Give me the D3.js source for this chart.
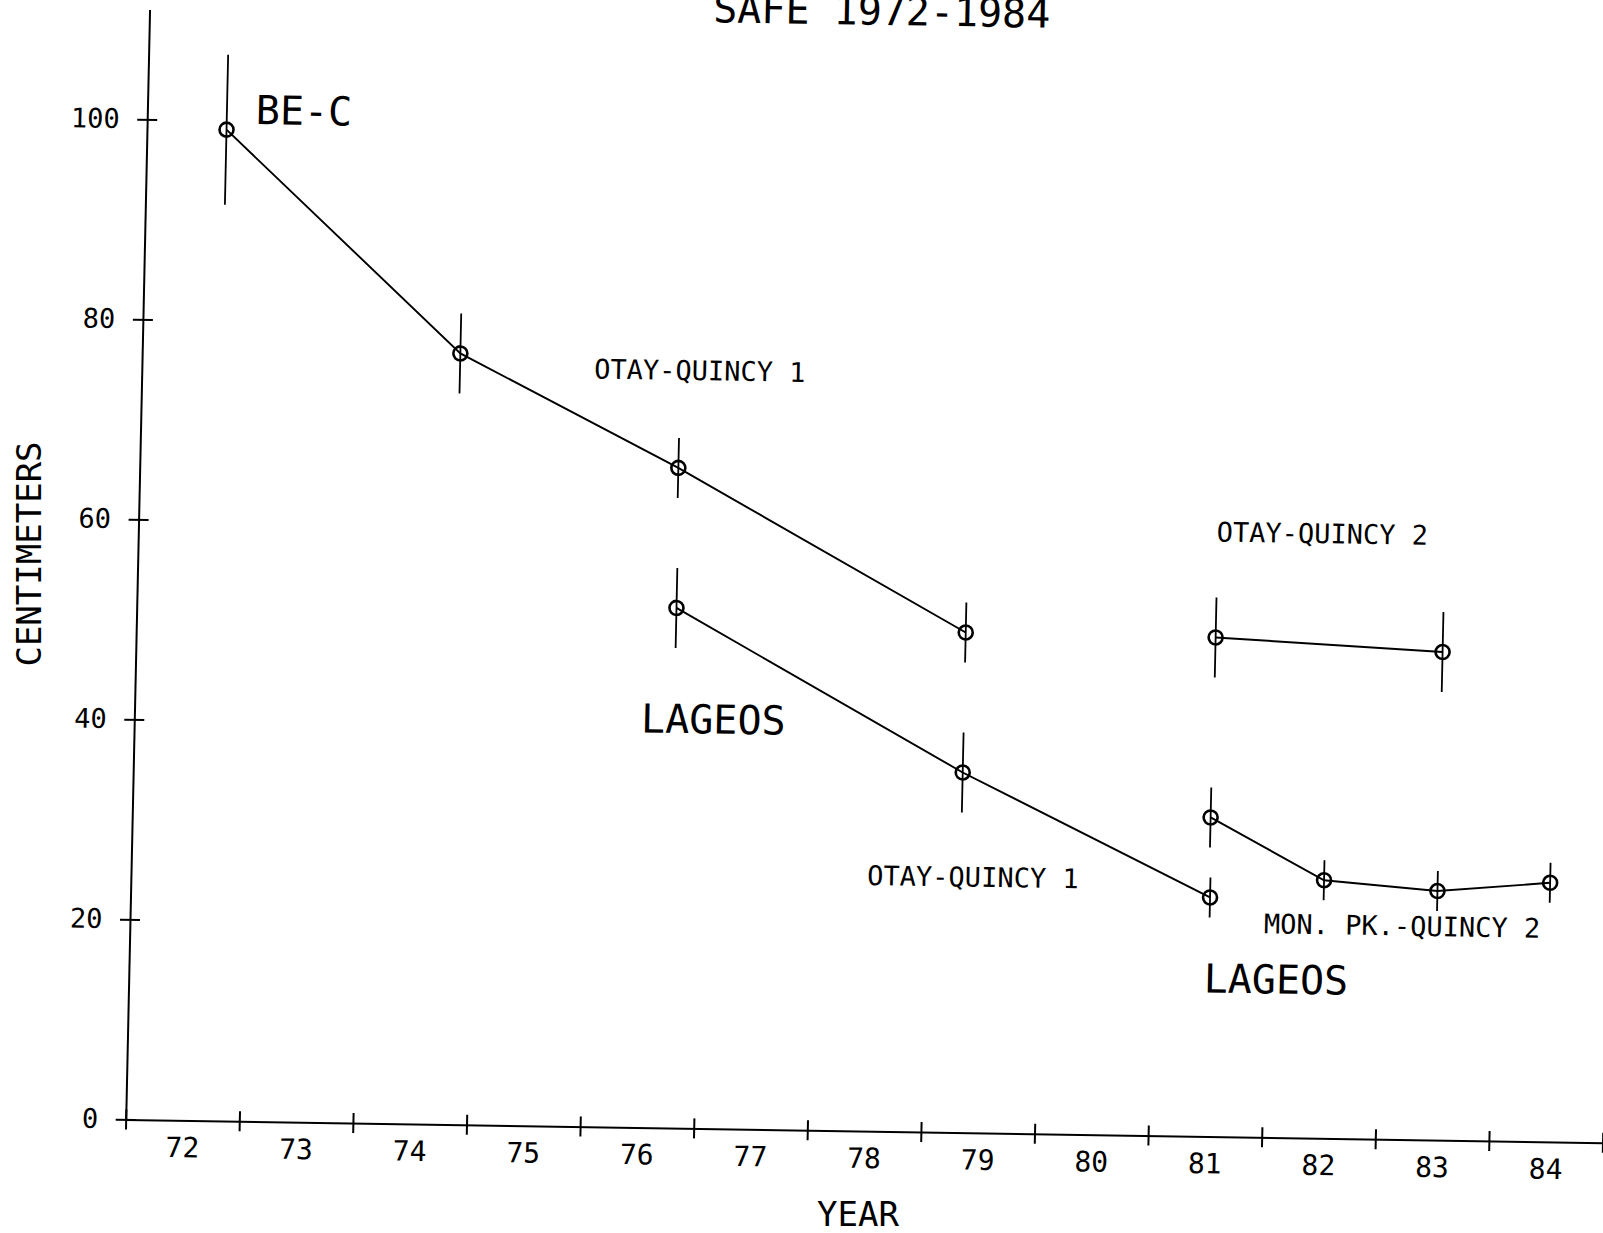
<!DOCTYPE html>
<html>
<head>
<meta charset="utf-8">
<script src="https://cdn.jsdelivr.net/npm/d3@7"></script>
<style>
  body { margin: 0; background: #fff; }
  svg { display: block; }
  text { font-family: "DejaVu Sans Mono", monospace; fill: #000; }
</style>
</head>
<body>
<div id="chart"></div>
<script>
// Upper curve: BE-C then OTAY-QUINCY 1
const beYears = [1972.70, 1974.80, 1976.74, 1979.30];
const beCm = [99.1, 77.1, 66.0, 50.0];
const beErr = [7.5, 4.0, 3.0, 3.0];

// LAGEOS / OTAY-QUINCY 1
const lagYears = [1976.75, 1979.30, 1981.50];
const lagCm = [52.0, 36.0, 23.9];
const lagErr = [4.0, 4.0, 2.0];

// OTAY-QUINCY 2
const oq2Years = [1981.50, 1983.50];
const oq2Cm = [49.9, 48.8];
const oq2Err = [4.0, 4.0];

// LAGEOS / MON. PK.-QUINCY 2
const monYears = [1981.49, 1982.50, 1983.50, 1984.49];
const monCm = [31.9, 25.8, 24.9, 25.9];
const monErr = [3.0, 2.0, 2.0, 2.0];

const yTicks = [0, 20, 40, 60, 80, 100];
const yearTicks = d3.range(1972, 1986);
const yearLabels = ["72", "73", "74", "75", "76", "77", "78", "79", "80", "81", "82", "83", "84"];

// text labels placed in data space
const labelText = ["SAFE 1972-1984", "BE-C", "OTAY-QUINCY 1", "LAGEOS", "OTAY-QUINCY 1",
                   "OTAY-QUINCY 2", "MON. PK.-QUINCY 2", "LAGEOS"];
const labelYear = [1976.96, 1972.955, 1975.98, 1976.46, 1978.48, 1981.49, 1981.98, 1981.46];
const labelCm = [110.6, 99.7, 74.8, 39.5, 24.6, 59.5, 20.4, 14.4];
const labelBig = [true, true, false, true, false, false, false, true];

const width = 1603, height = 1233;

const svg = d3.select("#chart").append("svg")
  .attr("width", width)
  .attr("height", height);

// the scanned plot is slightly skewed; keep that with one affine transform
const g = svg.append("g")
  .attr("transform", "matrix(1, 0.0158, -0.0215, 1, 125.7, 1119.4)");

const x = d3.scaleLinear().domain([1972, 1985]).range([0, 1476.8]);
const y = d3.scaleLinear().domain([0, 111]).range([0, -1110]);

// x axis with cross ticks
g.append("g")
  .call(d3.axisBottom(x).tickValues(yearTicks).tickFormat("").tickSizeInner(10).tickSizeOuter(0))
  .call(a => a.selectAll(".tick line").attr("y1", -10).attr("stroke-width", 2))
  .call(a => a.select(".domain").attr("stroke-width", 2));

// year labels sit in the middle of each year
g.append("g")
  .call(d3.axisBottom(x).tickValues(yearLabels.map((d, i) => 1972.5 + i))
    .tickFormat((d, i) => yearLabels[i]).tickSize(0).tickPadding(17))
  .call(a => a.select(".domain").remove())
  .call(a => a.selectAll("text").attr("font-size", 28))
  .attr("font-family", null).attr("font-size", null);

// y axis
g.append("g")
  .call(d3.axisLeft(y).tickValues(yTicks).tickSizeInner(10).tickSizeOuter(0).tickPadding(17.6))
  .call(a => a.selectAll(".tick line").attr("x1", 10).attr("stroke-width", 2))
  .call(a => a.select(".domain").attr("stroke-width", 2))
  .call(a => a.selectAll("text").attr("font-size", 27))
  .attr("font-family", null).attr("font-size", null);

const series = [
  { years: beYears, cm: beCm, err: beErr },
  { years: lagYears, cm: lagCm, err: lagErr },
  { years: oq2Years, cm: oq2Cm, err: oq2Err },
  { years: monYears, cm: monCm, err: monErr }
];

const line = d3.line().x(d => x(d.year)).y(d => y(d.cm));

series.forEach(s => {
  const pts = s.years.map((yr, i) => ({ year: yr, cm: s.cm[i], err: s.err[i] }));
  const sg = g.append("g");

  sg.append("path")
    .attr("d", line(pts))
    .attr("fill", "none")
    .attr("stroke", "#000")
    .attr("stroke-width", 1.9);

  sg.selectAll("line.err")
    .data(pts)
    .join("line")
    .attr("class", "err")
    .attr("x1", d => x(d.year)).attr("x2", d => x(d.year))
    .attr("y1", d => y(d.cm - d.err)).attr("y2", d => y(d.cm + d.err))
    .attr("stroke", "#000")
    .attr("stroke-width", 1.8);

  sg.selectAll("circle")
    .data(pts)
    .join("circle")
    .attr("cx", d => x(d.year))
    .attr("cy", d => y(d.cm))
    .attr("r", 7)
    .attr("fill", "none")
    .attr("stroke", "#000")
    .attr("stroke-width", 2.6);
});

// annotations
g.selectAll("text.label")
  .data(labelText)
  .join("text")
  .attr("class", "label")
  .attr("x", (d, i) => x(labelYear[i]))
  .attr("y", (d, i) => y(labelCm[i]))
  .attr("font-size", (d, i) => labelBig[i] ? 40 : 27)
  .style("white-space", "pre")
  .text(d => d);

// axis titles
svg.append("text")
  .attr("transform", "translate(41,554) rotate(-90)")
  .attr("text-anchor", "middle")
  .attr("font-size", 34)
  .text("CENTIMETERS");

svg.append("text")
  .attr("x", 858)
  .attr("y", 1226)
  .attr("text-anchor", "middle")
  .attr("font-size", 34)
  .text("YEAR");
</script>
</body>
</html>
